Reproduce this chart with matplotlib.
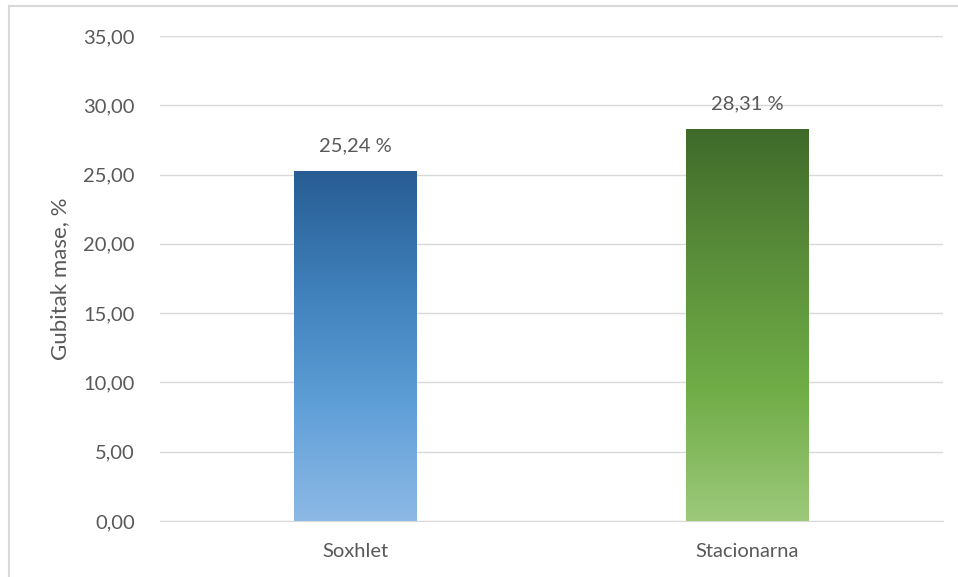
import numpy as np
import matplotlib.pyplot as plt
from matplotlib.colors import LinearSegmentedColormap

# data
categories = ["Soxhlet", "Stacionarna"]
values = [25.24, 28.31]
labels = ["25,24 %", "28,31 %"]
yticks = [0, 5, 10, 15, 20, 25, 30, 35]

# gradient colours, top -> bottom
grad_colors = [
    ["#275D93", "#3F7FBA", "#5F9FD8", "#8DB9E5"],
    ["#3F6A2A", "#5A8E3A", "#70AD47", "#9CC97A"],
]

plt.rcParams["font.family"] = ["Lato", "DejaVu Sans"]

fig = plt.figure(figsize=(9.58, 5.77), dpi=100)
ax = fig.add_axes([160 / 958, 1 - 521 / 577, 783 / 958, 485 / 577])

x = np.arange(len(categories))
bars = ax.bar(x, values, width=0.314, color="none", edgecolor="none", zorder=3)

grad = np.linspace(0, 1, 256).reshape(-1, 1)
for bar, cols in zip(bars, grad_colors):
    cmap = LinearSegmentedColormap.from_list("g", cols)
    x0 = bar.get_x()
    w = bar.get_width()
    h = bar.get_height()
    # row 0 (dark) at the top of the bar
    im = ax.imshow(grad, cmap=cmap, aspect="auto", extent=[x0, x0 + w, 0, h],
                   origin="upper", zorder=3)
    im.set_clip_path(bar)

for xi, v, lab in zip(x, values, labels):
    ax.text(xi, v + 1.2, lab, ha="center", va="bottom", fontsize=14.5, color="#595959")

ax.set_xlim(-0.5, 1.5)
ax.set_ylim(0, 35)
ax.set_yticks(yticks)
ax.set_yticklabels([("%.2f" % t).replace(".", ",") for t in yticks])
ax.set_xticks(x)
ax.set_xticklabels(categories)
ax.tick_params(axis="both", length=0, labelsize=14.5, colors="#595959")
ax.tick_params(axis="y", pad=18)
ax.tick_params(axis="x", pad=16)
ax.yaxis.grid(True, color="#D9D9D9", linewidth=1)
ax.set_axisbelow(True)
for s in ["top", "right", "left"]:
    ax.spines[s].set_visible(False)
ax.spines["bottom"].set_color("#D9D9D9")
ax.set_ylabel("Gubitak mase, %", fontsize=16, color="#595959", labelpad=10)

# outer chart border (only top and left visible in the crop)
fig.add_artist(plt.Line2D([8.5 / 958, 1], [1 - 5.5 / 577, 1 - 5.5 / 577],
                          transform=fig.transFigure, color="#D9D9D9", linewidth=1.5))
fig.add_artist(plt.Line2D([8.5 / 958, 8.5 / 958], [0, 1 - 5.5 / 577],
                          transform=fig.transFigure, color="#D9D9D9", linewidth=1.5))

fig.savefig("out.png", dpi=100)
